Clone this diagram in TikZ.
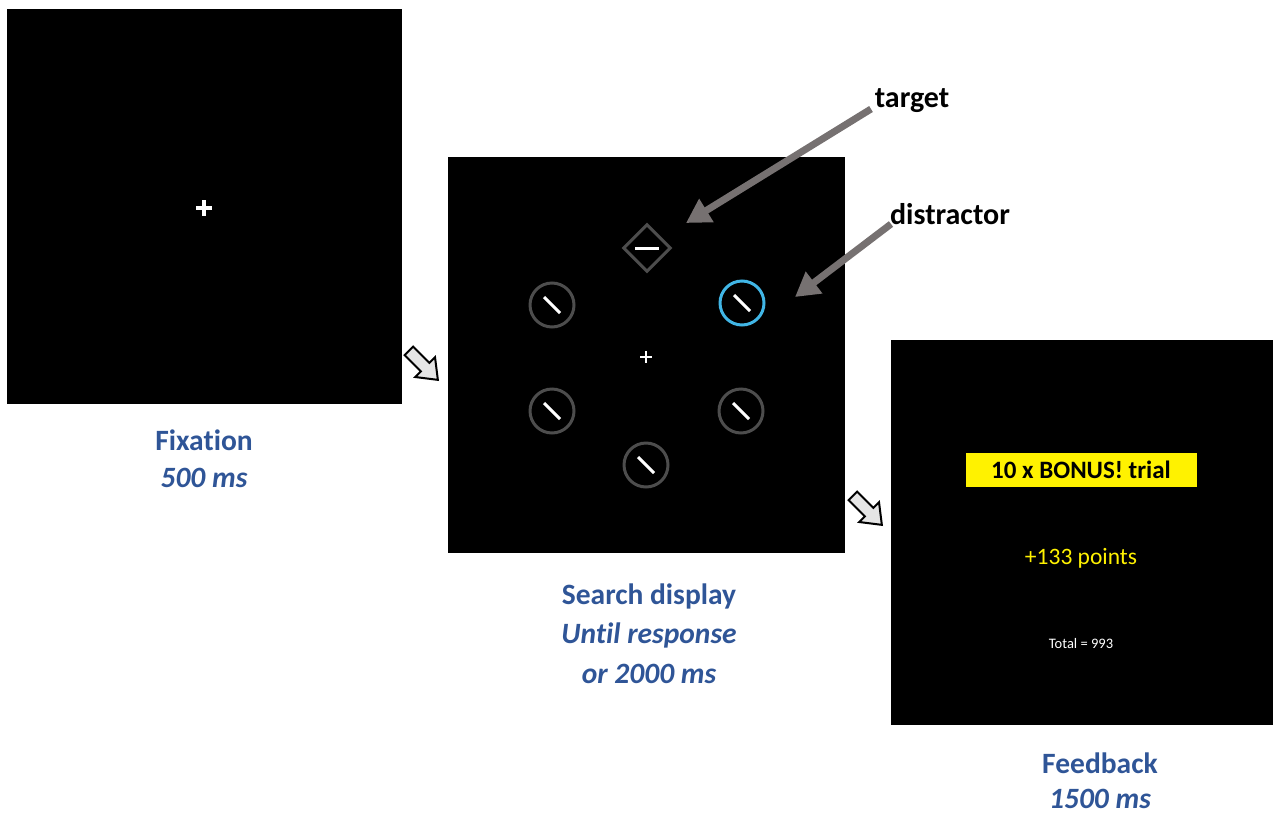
\documentclass[tikz,border=0pt]{standalone}
\usepackage{fontspec}
\setmainfont{Carlito}[Ligatures={NoCommon,NoRequired,NoContextual}]
\usetikzlibrary{arrows.meta,calc}
\definecolor{lblue}{HTML}{2F5597}
\definecolor{pgray}{HTML}{767171}
\definecolor{cgray}{HTML}{4D4D4D}
\definecolor{cblue}{HTML}{41B6E6}
\tikzset{
  panel/.style={fill=black, draw=none},
  lbl/.style={text=lblue, font=\fontsize{29.5}{34}\selectfont\bfseries, align=center, inner sep=0},
  lbli/.style={text=lblue, font=\fontsize{29.5}{34}\selectfont\bfseries\itshape, align=center, inner sep=0},
  callout/.style={text=black, font=\fontsize{30}{34}\selectfont\bfseries, inner sep=0},
  pointer/.style={draw=pgray, line width=7pt, -{Triangle[length=24pt,width=26pt]}},
  item/.style={circle, draw=cgray, line width=3pt, minimum size=44pt, inner sep=0},
  bar/.style={draw=white, line width=3pt},
  nextarrow/.style={fill=black!10, draw=black, line width=2pt, line join=miter},
}
\begin{document}
\begin{tikzpicture}[x=1pt,y=-1pt]
\useasboundingbox (0,0) rectangle (1273,814);
% panels
\fill[panel] (7,9) rectangle (402,404);
\fill[panel] (448,157) rectangle (845,553);
\fill[panel] (891,340) rectangle (1273,725);
% fixation cross
\node (fixc) at (204,208) {};
\draw[draw=white, line width=3.5pt] (196,208) -- (212,208) (204,200) -- (204,216);
% search cross
\node (sc) at (646,357) {};
\draw[draw=white, line width=2.5pt] (640,357) -- (652,357) (646,351) -- (646,363);
% target diamond
\node[draw=cgray, line width=3pt, minimum width=33pt, minimum height=33pt, rotate=45, inner sep=0] (tgt) at (647,248) {};
\draw[bar] (635,248.5) -- (659,248.5);
% circles
\foreach \n/\x/\y/\c in {c1/552/305/cgray, c2/742/303/cblue, c3/552/411/cgray, c4/741/411/cgray, c5/646/465/cgray}{
  \node[item, draw=\c] (\n) at (\x,\y) {};
  \draw[bar] ($(\x,\y)+(-8,-8)$) -- ($(\x,\y)+(8,8)$);
}
% callouts
\node[callout] (tlab) at (912,101) {target};
\node[callout] (dlab) at (950,214) {distractor};
\coordinate (ttail) at (871,109);
\coordinate (ttip) at (686,223);
\coordinate (dtail) at (891,224);
\coordinate (dtip) at (795,297);
\draw[pointer] (ttail) -- (ttip);
\draw[pointer] (dtail) -- (dtip);
% feedback content
\node[fill=yellow, minimum width=231pt, minimum height=34pt, inner sep=0, font=\fontsize{25}{28}\selectfont\bfseries, text=black] (bonus) at (1081,470) {10 x BONUS! trial};
\node[text=yellow, font=\fontsize{23.5}{28}\selectfont, inner sep=0] (pts) at (1081,558) {+133 points};
\node[text=white, font=\fontsize{14.5}{16}\selectfont, inner sep=0] (tot) at (1081,644) {Total = 993};
% labels
\node[lbl] (l1a) at (204,440) {Fixation};
\node[lbli] (l1b) at (204,478) {500 ms};
\node[lbl] (l2a) at (649,596) {Search display};
\node[lbli] (l2b) at (649,635) {Until response};
\node[lbli] (l2c) at (649,674) {or 2000 ms};
\node[lbl] (l3a) at (1100,763) {Feedback};
\node[lbli] (l3b) at (1100,799) {1500 ms};
% transition arrows
\begin{scope}[shift={(423,365)}, rotate=-45]
\filldraw[nextarrow] (-20,-6) -- (3,-6) -- (3,-14) -- (21,0) -- (3,14) -- (3,6) -- (-20,6) -- cycle;
\end{scope}
\begin{scope}[shift={(867,510)}, rotate=-45]
\filldraw[nextarrow] (-20,-6) -- (3,-6) -- (3,-14) -- (21,0) -- (3,14) -- (3,6) -- (-20,6) -- cycle;
\end{scope}
\end{tikzpicture}
\end{document}
